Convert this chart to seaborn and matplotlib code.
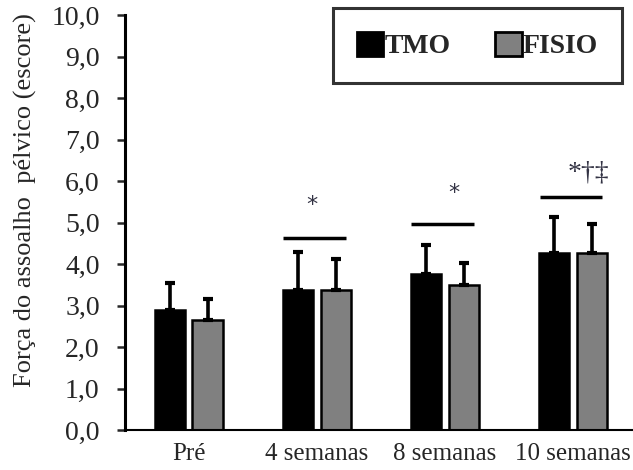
import matplotlib
matplotlib.use("Agg")
import matplotlib.pyplot as plt
import seaborn as sns
import pandas as pd
import numpy as np
from matplotlib.patches import Patch

categories = ["Pré", "4 semanas", "8 semanas", "10 semanas"]
groups = ["TMO", "FISIO"]
tmo_mean = [2.90, 3.37, 3.76, 4.26]
tmo_sd = [0.65, 0.93, 0.70, 0.88]
fisio_mean = [2.65, 3.37, 3.49, 4.26]
fisio_sd = [0.50, 0.75, 0.54, 0.70]
yticks = [0, 1, 2, 3, 4, 5, 6, 7, 8, 9, 10]
ytick_labels = ["0,0", "1,0", "2,0", "3,0", "4,0", "5,0", "6,0", "7,0", "8,0", "9,0", "10,0"]
sig_cats = [1, 2, 3]
sig_y = [4.63, 4.96, 5.62]
sig_text = ["*", "*", "*†‡"]
sig_text_y = [5.42, 5.72, 6.2]

sns.set_style("white")
plt.rcParams["font.family"] = ["Liberation Serif", "DejaVu Serif"]

df = pd.DataFrame({
    "cat": categories * 2,
    "grupo": ["TMO"] * 4 + ["FISIO"] * 4,
    "val": tmo_mean + fisio_mean,
})

fig = plt.figure(figsize=(6.33, 4.70), dpi=100)
ax = fig.add_axes([0.197, 0.085, 0.803, 0.883])

palette = {"TMO": "#000000", "FISIO": "#808080"}
sns.barplot(data=df, x="cat", y="val", hue="grupo", order=categories,
            hue_order=groups, palette=palette, width=0.59, gap=0.2,
            edgecolor="black", linewidth=1.8, errorbar=None, ax=ax,
            legend=False)

# error bars (upper only)
patches = ax.patches
sds = tmo_sd + fisio_sd
means = tmo_mean + fisio_mean
xs = [p.get_x() + p.get_width() / 2 for p in patches[:8]]
ax.errorbar(xs, means, yerr=[np.zeros(8), sds], fmt="none", ecolor="black",
            elinewidth=2.6, capsize=3.5, capthick=3, zorder=1)

# significance lines
for c, y, t, ty in zip(sig_cats, sig_y, sig_text, sig_text_y):
    ax.hlines(y, c - 0.26, c + 0.23, color="black", linewidth=2.5)
    if len(t) > 1:
        ax.text(c + 0.12, ty, t, ha="center", va="center", fontsize=20,
                color="#333344")
    else:
        off = 0.07 if c == 2 else -0.04
        ax.text(c + off, ty, t, ha="center", va="center", fontsize=16,
                color="#333344", family=["DejaVu Sans"])

ax.set_ylim(0, 10)
ax.set_xlim(-0.5, 3.47)
ax.set_yticks(yticks)
ax.set_yticklabels(ytick_labels)
ax.set_xlabel("")
ax.set_ylabel("Força do assoalho  pélvico (escore)", fontsize=19)
ax.yaxis.set_label_coords(-0.172, 0.555)
ax.tick_params(axis="y", labelsize=20, length=6, width=1.8, direction="out",
               left=True, pad=12)
ax.tick_params(axis="x", labelsize=18, length=0, pad=9)
for s in ["top", "right"]:
    ax.spines[s].set_visible(False)
ax.spines["left"].set_linewidth(2.2)
ax.spines["bottom"].set_linewidth(1.5)
ax.spines["left"].set_color("black")
ax.spines["bottom"].set_color("black")

handles = [Patch(facecolor=palette[g], edgecolor="black", linewidth=2, label=g)
           for g in groups]
leg = ax.legend(handles=handles, ncol=2, loc="upper right",
                bbox_to_anchor=(0.978, 1.017), borderaxespad=0,
                frameon=True, fancybox=False, edgecolor="black",
                prop={"weight": "bold", "size": 20}, handlelength=0.95,
                handleheight=0.95, handletextpad=0.05, columnspacing=1.6,
                borderpad=0.85)
leg.get_frame().set_linewidth(2.2)

fig.savefig("out.png", dpi=100)
